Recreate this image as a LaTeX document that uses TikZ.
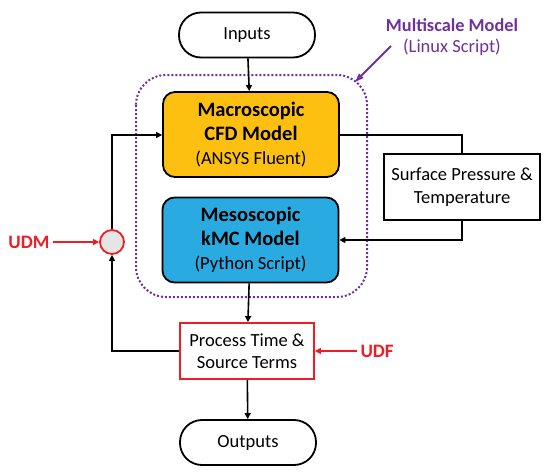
\documentclass[tikz,border=0pt]{standalone}
\usepackage{fontspec}
\setmainfont{Carlito}
\usetikzlibrary{arrows.meta,positioning}
\definecolor{gold}{HTML}{FDC010}
\definecolor{skyb}{HTML}{29ABE2}
\definecolor{purp}{HTML}{7030A0}
\definecolor{redd}{HTML}{EE1C25}
\tikzset{
  term/.style={draw=black,line width=1.8pt,rounded corners=22pt,minimum width=136pt,minimum height=45pt,font=\fontsize{18.5}{22}\selectfont,fill=white},
  model/.style={draw=black,line width=1.8pt,rounded corners=12pt,minimum width=176pt,minimum height=85pt,inner sep=0pt,align=center,font=\fontsize{18.5}{24}\selectfont},
  plain/.style={draw=black,line width=1.8pt,minimum width=156pt,minimum height=66pt,inner sep=0pt,align=center,font=\fontsize{18.5}{22.5}\selectfont,fill=white},
  redbox/.style={draw=redd,line width=1.8pt,minimum width=134pt,minimum height=56pt,inner sep=0pt,align=center,font=\fontsize{18.5}{22.5}\selectfont,fill=white},
  conn/.style={line width=1.6pt,-{Triangle[length=6pt,width=6pt]}},
  rconn/.style={line width=1.6pt,draw=redd,-{Triangle[length=6pt,width=6pt]},redd},
  lab/.style={font=\bfseries\fontsize{19}{22}\selectfont,text=redd},
  bt/.style={font=\bfseries\fontsize{20.5}{24}\selectfont}
}
\begin{document}
\begin{tikzpicture}[x=1pt,y=-1pt]
\useasboundingbox (0,0) rectangle (550,474);
\draw[purp,line width=2pt,dotted,rounded corners=30pt] (136,75) rectangle (367,297);
\node[term] (in) at (247,35) {Inputs};
\node[model,fill=gold] (macro) at (251,134.5) {{\bfseries\fontsize{20.5}{24}\selectfont Macroscopic}\\{\bfseries\fontsize{20.5}{24}\selectfont CFD Model}\\(ANSYS Fluent)};
\node[model,fill=skyb] (meso) at (250.5,240) {{\bfseries\fontsize{20.5}{24}\selectfont Mesoscopic}\\{\bfseries\fontsize{20.5}{24}\selectfont kMC Model}\\(Python Script)};
\node[plain] (surf) at (462,187) {Surface Pressure \&\\Temperature};
\node[redbox] (proc) at (247,351) {Process Time \&\\Source Terms};
\node[term] (out) at (248,442.5) {Outputs};
\node[circle,draw=redd,line width=1.8pt,fill=black!10,minimum size=24pt,inner sep=0pt] (sum) at (112,242) {};
\node[lab,anchor=east] (udm) at (53,242) {UDM};
\node[lab,anchor=west] (udf) at (357,351) {UDF};
\node[font=\bfseries\fontsize{18.3}{22}\selectfont,text=purp] (ms) at (452,25) {Multiscale Model};
\node[font=\fontsize{18.5}{22}\selectfont,text=purp] (ls) at (452,47) {(Linux Script)};
\coordinate (msarr) at (355,82);
\draw[purp,line width=1.8pt,-{Triangle[length=9pt,width=6pt]}] (391,46) -- (msarr);
\draw[conn] (in) -- (macro);
\draw[conn] (meso) -- (proc);
\draw[conn] (proc) -- (out);
\draw[line width=1.6pt] (macro.east |- 0,135) -| (surf.north);
\draw[conn] (surf.south) |- (meso.east |- 0,240);
\draw[conn] (proc.west) -| (sum.south);
\draw[conn] (sum.north) |- (macro.west |- 0,135);
\draw[rconn] (udm) -- (sum);
\draw[rconn] (udf) -- (proc);
\end{tikzpicture}
\end{document}
